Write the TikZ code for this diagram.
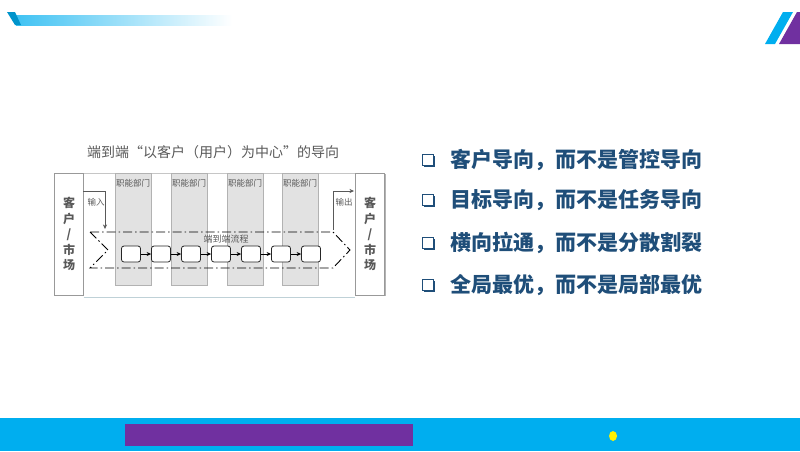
\documentclass[tikz,border=0pt]{standalone}
\usepackage{fontspec}
\newfontfamily\cjk{Noto Sans CJK SC}
\usetikzlibrary{arrows.meta,shadows}
\definecolor{barblue}{HTML}{00AEEF}
\definecolor{barpurple}{HTML}{7030A0}
\definecolor{navy}{HTML}{1F4E79}
\definecolor{panelgray}{HTML}{D9D9D9}
\definecolor{inkgray}{HTML}{595959}
\tikzset{
  market/.style={draw=gray!80,fill=white,minimum width=29pt,minimum height=122pt,
    inner sep=0pt,align=center,text=inkgray,font=\cjk\bfseries\fontsize{12}{15.5}\selectfont},
  dept/.style={draw=gray!60,fill=panelgray!75,minimum width=36pt,minimum height=112pt,
    inner sep=0pt,anchor=north},
  small/.style={text=inkgray,font=\cjk\fontsize{8.5}{9}\selectfont,inner sep=0pt},
  stepbox/.style={draw=black!85,rounded corners=2.5pt,line width=0.8pt,fill=white,
    minimum width=19pt,minimum height=16pt,inner sep=0pt},
  flow/.style={-{Stealth[length=4.5pt,width=4pt]},line width=0.7pt},
  pointbox/.style={draw=navy,line width=1.8pt,fill=white,minimum size=11pt,inner sep=0pt,
    drop shadow={shadow xshift=1.8pt,shadow yshift=-1.8pt,opacity=1,fill=navy}},
  point/.style={anchor=west,text=navy,inner sep=0pt,font=\cjk\bfseries\fontsize{21}{24}\selectfont}
}
\begin{document}
\begin{tikzpicture}[x=1pt,y=-1pt]
  \useasboundingbox (0,0) rectangle (800,451);
  % page decoration
  \shade[left color=barblue!75,right color=white] (16,15) rectangle (232,25);
  \fill[barblue!85!black] (7,12) -- (15,12) -- (21,25) -- (15,25) -- cycle;
  \fill[barblue] (765,44) -- (775,44) -- (793,12) -- (783,12) -- cycle;
  \fill[barpurple] (779,44) -- (800,44) -- (800,12) -- (797,12) -- cycle;
  \fill[barblue] (0,418) rectangle (800,451);
  \fill[barpurple] (125,424) rectangle (413,446);
  \fill[yellow] (613,436) ellipse (4 and 5);

  % end-to-end diagram
  \node[text=inkgray,font=\cjk\fontsize{14}{16}\selectfont] (title) at (213,152)
    {端到端“以客户（用户）为中心”的导向};
  \node[market] (mkin) at (69,234) {客\\户\\/\\市\\场};
  \node[market,drop shadow={shadow xshift=1.5pt,shadow yshift=-0.5pt,opacity=0.6}] (mkout) at (370,234) {客\\户\\/\\市\\场};
  \draw[gray!45] (mkin.north east) -- (mkout.north west);
  \draw[barblue!25!gray!40] ([yshift=-2pt]mkin.south east) -- ([yshift=-2pt]mkout.south west);
  \foreach \x [count=\i] in {133,189,245,300} {
    \node[dept] (dept\i) at (\x,173) {};
    \node[small] (deptname\i) at (\x,183) {职能部门};
  }
  \coordinate (tl) at (90,232); \coordinate (tr) at (333,232);
  \coordinate (tip) at (350,250); \coordinate (br) at (333,268);
  \coordinate (bl) at (90,268); \coordinate (notch) at (108,250);
  \draw[dash pattern=on 9pt off 3pt on 1.5pt off 3pt,line width=0.9pt]
    (tl) -- (tr) -- (tip) -- (br) -- (bl) -- (notch) -- cycle;
  \node[small,font=\cjk\fontsize{9}{10}\selectfont] (flowname) at (226,239) {端到端流程};
  \foreach \i in {1,...,7}
    \node[stepbox] (s\i) at (131+30*\i-30,254) {};
  \foreach \i [evaluate=\i as \j using int(\i+1)] in {1,...,6}
    \draw[flow] (s\i) -- (s\j);
  % input and output
  \coordinate (inA) at (83,191); \coordinate (inB) at (105,191); \coordinate (inC) at (105,229);
  \draw[flow,line width=0.4pt,gray!70!black] (inA) -- (inB) -- (inC);
  \node[small] (inname) at (96,202) {输入};
  \coordinate (outA) at (333,230); \coordinate (outB) at (333,191); \coordinate (outC) at (354,191);
  \draw[flow,line width=0.4pt,gray!70!black] (outA) -- (outB) -- (outC);
  \node[small] (outname) at (344,202) {输出};

  % key points
  \foreach \y/\t [count=\i] in {160/客户导向，而不是管控导向,200/目标导向，而不是任务导向,
      243/横向拉通，而不是分散割裂,285/全局最优，而不是局部最优} {
    \node[pointbox] (box\i) at (428,\y) {};
    \node[point] (point\i) at (450,\y) {\t};
  }
\end{tikzpicture}
\end{document}
